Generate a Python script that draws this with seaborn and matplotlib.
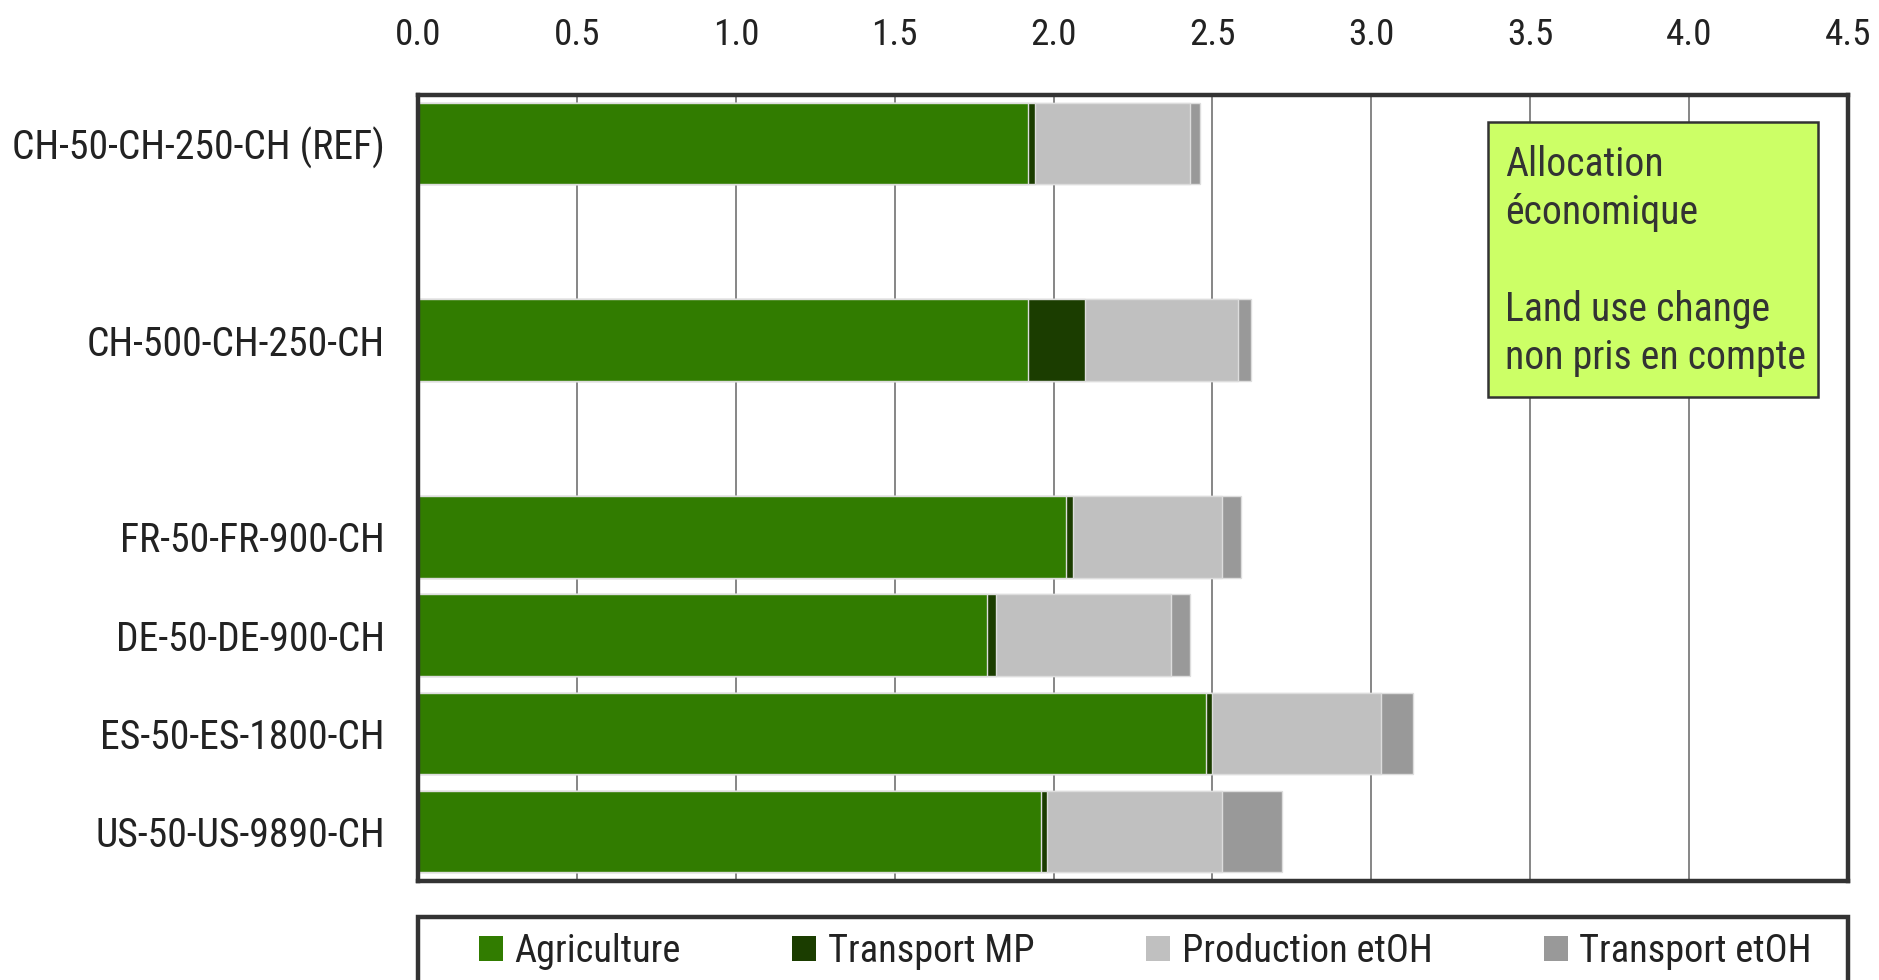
import numpy as np
import pandas as pd
import seaborn as sns
import matplotlib.pyplot as plt
from matplotlib import font_manager as fm
from matplotlib.textpath import TextPath
from matplotlib.patches import Patch, Rectangle

# values
scenarios = ["CH-50-CH-250-CH (REF)", "CH-500-CH-250-CH", "FR-50-FR-900-CH",
             "DE-50-DE-900-CH", "ES-50-ES-1800-CH", "US-50-US-9890-CH"]
agriculture = [1.92, 1.92, 2.04, 1.79, 2.48, 1.96]
transport_mp = [0.02, 0.18, 0.02, 0.03, 0.02, 0.02]
production_etoh = [0.49, 0.48, 0.47, 0.55, 0.53, 0.55]
transport_etoh = [0.03, 0.04, 0.06, 0.06, 0.10, 0.19]

stage_names = ["Agriculture", "Transport MP", "Production etOH", "Transport etOH"]
stage_colors = ["#317c00", "#1b3d00", "#c0c0c0", "#999999"]

x_ticks = [0.0, 0.5, 1.0, 1.5, 2.0, 2.5, 3.0, 3.5, 4.0, 4.5]
note_text = "Allocation\néconomique\n\nLand use change\nnon pris en compte"

# empty slots between the first groups of bars
order = [scenarios[0], " ", scenarios[1], "  "] + scenarios[2:]


def pick_narrow_font():
    # the original uses a condensed grotesque, take the narrowest we have
    narrow_stretch = ("condensed", "semi-condensed", "extra-condensed", "ultra-condensed")
    prefs = ["Liberation Sans Narrow", "Roboto Condensed", "Noto Sans", "Open Sans", "DejaVu Sans"]
    found = {}
    for f in fm.fontManager.ttflist:
        if f.style != "normal" or f.weight not in (400, "normal", "regular"):
            continue
        st = f.stretch
        is_narrow = ("narrow" in f.name.lower() or "condensed" in f.name.lower()
                     or st in narrow_stretch or (isinstance(st, int) and st < 500))
        if is_narrow:
            found.setdefault(f.name, st)
    for p in prefs:
        if p in found:
            return p, found[p]
    if found:
        name = sorted(found)[0]
        return name, found[name]
    return "DejaVu Sans", "normal"


sns.set_style("white")
font_name, font_stretch = pick_narrow_font()
plt.rcParams["font.family"] = [font_name, "DejaVu Sans"]
plt.rcParams["font.stretch"] = font_stretch
plt.rcParams["text.color"] = "#222222"

# shrink the type if the font is wider than the original's
fp = fm.FontProperties(family=font_name, stretch=font_stretch)
w_pt = TextPath((0, 0), scenarios[0], size=30, prop=fp).get_extents().width
k = min(1.0, 368 / (w_pt * 100 / 72))
fs_label = 30 * k
fs_tick = 28 * k
fs_note = 30 * k
fs_leg = 29 * k

df = pd.DataFrame({"scenario": scenarios,
                   "Agriculture": agriculture,
                   "Transport MP": transport_mp,
                   "Production etOH": production_etoh,
                   "Transport etOH": transport_etoh})
cum = df[stage_names].cumsum(axis=1)
cum["scenario"] = df["scenario"]

fig = plt.figure(figsize=(18.79, 9.8), dpi=100)
ax = fig.add_axes([0.2225, 0.1013, 0.7610, 0.8022])

# stacked bars: draw cumulative totals from the back to the front
for name, color in reversed(list(zip(stage_names, stage_colors))):
    sns.barplot(data=cum, x=name, y="scenario", order=order, orient="h",
                color=color, saturation=1, width=0.83, errorbar=None,
                edgecolor="#dddddd", linewidth=1, ax=ax)

ax.set_xlim(0, 4.5)
ax.set_xticks(x_ticks)
ax.set_xticklabels([f"{t:.1f}" for t in x_ticks])
ax.xaxis.tick_top()
ax.tick_params(axis="x", length=0, pad=30, labelsize=fs_tick, labelcolor="#222222")
ax.tick_params(axis="y", length=0, pad=24, labelsize=fs_label, labelcolor="#222222")
ax.set_xlabel("")
ax.set_ylabel("")
ax.grid(axis="x", color="#666666", linewidth=1.1)
ax.grid(axis="y", visible=False)
ax.set_axisbelow(True)
for sp in ax.spines.values():
    sp.set_visible(True)
    sp.set_color("#333333")
    sp.set_linewidth(3.2)

# note box in the upper right
ax.add_patch(Rectangle((0.748, 0.6156), 0.231, 0.35, transform=ax.transAxes,
                       facecolor="#ccff66", edgecolor="#333333", linewidth=1.8, zorder=5))
ax.text(0.760, 0.936, note_text, transform=ax.transAxes, va="top", ha="left",
        fontsize=fs_note, linespacing=1.3, color="#333333", zorder=6)

# legend with a frame that runs off the bottom of the figure
fig.add_artist(Rectangle((0.2225, -0.05), 0.7610, 0.1143, transform=fig.transFigure,
                         fill=False, edgecolor="#333333", linewidth=3.2))
handles = [Patch(facecolor=c, edgecolor="none") for c in stage_colors]
fig.legend(handles, stage_names, loc="center", bbox_to_anchor=(0.6095, 0.0290),
           ncol=4, frameon=False, fontsize=fs_leg, handlelength=0.63, handleheight=0.63,
           handletextpad=0.3, columnspacing=2.9)

fig.savefig("out.png", dpi=100, facecolor="white")
